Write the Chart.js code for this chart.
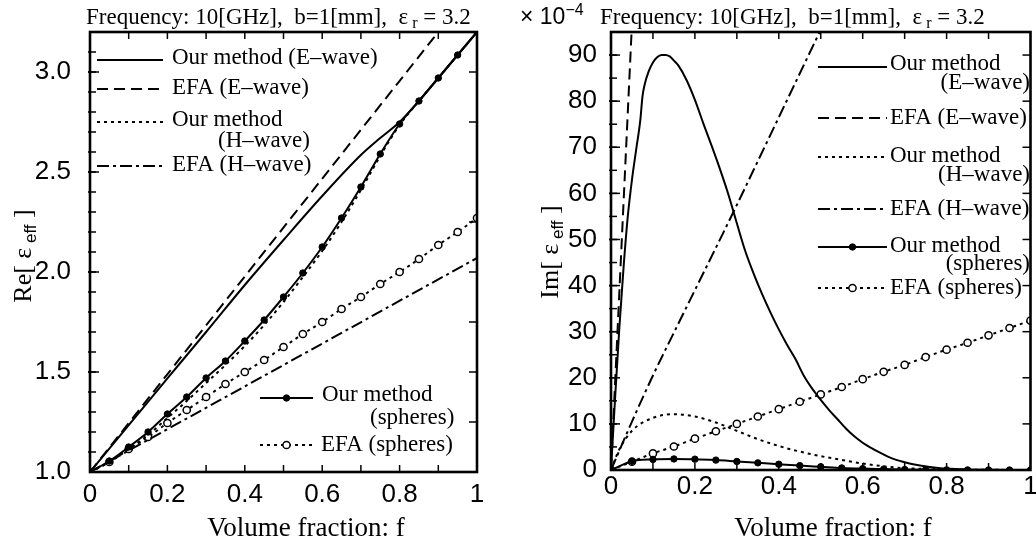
<!DOCTYPE html>
<html>
<head>
<meta charset="utf-8">
<script src="https://cdn.jsdelivr.net/npm/chart.js@4.4.1/dist/chart.umd.min.js"></script>
<style>
  html, body { margin: 0; padding: 0; background: #fff; }
  #wrap { position: relative; width: 1036px; height: 541px; }
  canvas { position: absolute; top: 0; }
  #re { left: 0; }
  #im { left: 518px; }
</style>
</head>
<body>
<div id="wrap">
  <canvas id="re" width="518" height="541"></canvas>
  <canvas id="im" width="518" height="541"></canvas>
</div>
<script>
// volume fraction grid used by the marker series (0.05 steps)
const fSteps = [0, 0.05, 0.1, 0.15, 0.2, 0.25, 0.3, 0.35, 0.4, 0.45, 0.5,
                0.55, 0.6, 0.65, 0.7, 0.75, 0.8, 0.85, 0.9, 0.95, 1];

// ---- left panel: Re[eps_eff] ----
const reOurEF = [0, 0.1, 0.2, 0.3, 0.4, 0.5, 0.6, 0.7, 0.75, 0.8, 0.85, 0.9, 0.95, 1];
const reOurE  = [1.0, 1.234, 1.468, 1.70, 1.935, 2.16, 2.38, 2.585, 2.67, 2.75, 2.855, 2.97, 3.085, 3.2];
const reEfaEF = [0, 0.9];
const reEfaE  = [1.0, 3.2];
const reOurH  = [1.0, 1.05, 1.115, 1.185, 1.27, 1.355, 1.445, 1.535, 1.63, 1.735, 1.85,
                 1.975, 2.105, 2.25, 2.41, 2.58, 2.735, 2.855, 2.97, 3.085, 3.2];
const reEfaHF = [0, 0.5, 1];
const reEfaH  = [1.0, 1.535, 2.07];
const reOurSph = [1.0, 1.055, 1.125, 1.2, 1.29, 1.375, 1.47, 1.555, 1.655, 1.76, 1.875,
                  1.995, 2.125, 2.27, 2.425, 2.59, 2.74, 2.855, 2.97, 3.085, 3.2];
const reEfaSph = [1.0, 1.05, 1.115, 1.175, 1.245, 1.31, 1.375, 1.44, 1.5, 1.56, 1.625,
                  1.69, 1.75, 1.815, 1.875, 1.94, 2.0, 2.065, 2.135, 2.2, 2.27];

// ---- right panel: Im[eps_eff] (x 10^-4) ----
const imOurEF = [0, 0.01, 0.02, 0.03, 0.04, 0.05, 0.06, 0.07, 0.075, 0.08, 0.09, 0.1, 0.11, 0.12,
                 0.13, 0.14, 0.15, 0.16, 0.18, 0.2, 0.22, 0.24, 0.26, 0.28, 0.3, 0.32, 0.34, 0.36,
                 0.38, 0.4, 0.42, 0.44, 0.46, 0.48, 0.5, 0.52, 0.54, 0.56, 0.58, 0.6, 0.62, 0.64,
                 0.66, 0.68, 0.7, 0.72, 0.74, 0.76, 0.78, 0.8, 0.85, 0.9, 0.95, 1];
const imOurE  = [0, 16, 31, 44, 55, 63, 69.5, 76, 81, 83.5, 86.5, 88.4, 89.5, 90,
                 90, 89.7, 88.8, 87.8, 84.6, 80.3, 75.2, 70.3, 65.2, 59.7, 53.5, 47.5, 42.6, 38.2,
                 34.2, 30.5, 27.1, 24.0, 20.4, 17.6, 15.2, 13.0, 11.0, 9.0, 7.3, 5.9, 4.8, 3.8,
                 2.9, 2.2, 1.7, 1.25, 0.9, 0.65, 0.45, 0.3, 0.12, 0.05, 0.02, 0];
const imEfaEF = [0, 0.049];
const imEfaE  = [0, 95];
const imOurHF = [0, 0.02, 0.05, 0.1, 0.15, 0.2, 0.25, 0.3, 0.35, 0.4, 0.45, 0.5, 0.55, 0.6,
                 0.65, 0.7, 0.8, 0.9, 1];
const imOurH  = [0, 4.5, 8.5, 11.3, 12.1, 11.6, 10.3, 8.5, 6.7, 5.2, 4.0, 3.0, 2.2, 1.4,
                 0.8, 0.4, 0.15, 0.05, 0];
const imEfaHF = [0, 0.05, 0.1, 0.15, 0.2, 0.25, 0.3, 0.35, 0.4, 0.45, 0.5];
const imEfaH  = [0, 10.5, 20.5, 29.8, 39, 48.2, 57.5, 67, 76.5, 86, 95.5];
const imOurSph = [0, 1.9, 2.3, 2.4, 2.35, 2.15, 1.85, 1.55, 1.25, 0.95, 0.7,
                  0.45, 0.3, 0.2, 0.1, 0.06, 0.03, 0.02, 0.01, 0, 0];
const imEfaSph = [0, 1.8, 3.6, 5.1, 6.8, 8.4, 10, 11.6, 13.2, 14.8, 16.4,
                  18, 19.7, 21.3, 22.8, 24.5, 26.1, 27.6, 29.2, 30.8, 32.4];

// ---------------------------------------------------------------------------
const SERIF = '"Liberation Serif", "Times New Roman", serif';
const SANS = '"Liberation Sans", Arial, sans-serif';

const SOLID = { borderDash: [] };
const DASH = { borderDash: [11, 6] };
const DOT = { borderDash: [3, 4] };
const DASHDOT = { borderDash: [12, 4, 3, 4] };
const FILLED_DOT = { borderDash: [], pointRadius: 3.2, pointBackgroundColor: '#000', pointBorderWidth: 1 };
const OPEN_DOT = { borderDash: [3, 4], pointRadius: 3.6, pointBackgroundColor: '#fff', pointBorderWidth: 1.5 };

function series(label, xs, ys, style) {
  return Object.assign({
    label,
    data: xs.map((x, i) => ({ x, y: ys[i] })),
    borderColor: '#000',
    backgroundColor: '#000',
    pointBorderColor: '#000',
    borderWidth: 2,
    pointRadius: 0,
    cubicInterpolationMode: 'monotone',
    fill: false
  }, style);
}

function drawRuns(ctx, runs, x, y, align) {
  let total = 0;
  runs.forEach((r) => { ctx.font = r.font; total += ctx.measureText(r.t).width; });
  let cx = align === 'center' ? x - total / 2 : (align === 'right' ? x - total : x);
  ctx.textAlign = 'left';
  runs.forEach((r) => {
    ctx.font = r.font;
    ctx.fillText(r.t, cx, y + (r.dy || 0));
    cx += ctx.measureText(r.t).width;
  });
}

// frame + inward tick marks, plus free text (titles, legend)
function paperPlugin(spec) {
  return {
    id: 'paper',
    afterDatasetsDraw(chart) {
      const { ctx, chartArea: a, scales: { x, y } } = chart;
      ctx.save();
      ctx.strokeStyle = '#000';
      ctx.lineWidth = 1.5;
      const marks = (scale, list, fn) => list.forEach(({ step, len }) => {
        const n = Math.round((scale.max - scale.min) / step) + 1;
        for (let i = 1; i <= n; i++) {
          const v = scale.min + i * step;
          if (v >= scale.max - 1e-9) break;
          fn(scale.getPixelForValue(v), len);
        }
      });
      const seg = (x0, y0, x1, y1) => { ctx.beginPath(); ctx.moveTo(x0, y0); ctx.lineTo(x1, y1); ctx.stroke(); };
      marks(x, spec.ticks.bottom, (p, l) => seg(p, a.bottom, p, a.bottom - l));
      marks(x, spec.ticks.top, (p, l) => seg(p, a.top, p, a.top + l));
      marks(y, spec.ticks.left, (p, l) => seg(a.left - 2, p, a.left + l, p));
      marks(y, spec.ticks.right, (p, l) => seg(a.right, p, a.right - l, p));
      ctx.lineWidth = 2.6;
      ctx.strokeRect(a.left, a.top, a.width, a.height);

      // legend
      ctx.fillStyle = '#000';
      ctx.textBaseline = 'middle';
      spec.legend.forEach((it) => {
        const ds = chart.data.datasets[it.ds];
        ctx.lineWidth = ds.borderWidth;
        ctx.setLineDash(ds.borderDash || []);
        seg(it.x0, it.ly, it.x1, it.ly);
        ctx.setLineDash([]);
        if (ds.pointRadius > 0) {
          ctx.beginPath();
          ctx.arc((it.x0 + it.x1) / 2, it.ly, ds.pointRadius, 0, Math.PI * 2);
          ctx.fillStyle = ds.pointBackgroundColor;
          ctx.fill();
          ctx.lineWidth = ds.pointBorderWidth;
          ctx.stroke();
          ctx.fillStyle = '#000';
        }
        it.lines.forEach((l) => drawRuns(ctx, [{ t: l.t, font: '23px ' + SERIF }], l.x, l.y, l.align || 'left'));
      });

      // titles
      ctx.textBaseline = 'alphabetic';
      spec.texts.forEach((t) => {
        ctx.save();
        if (t.rotate) {
          ctx.translate(t.x, t.y);
          ctx.rotate(-Math.PI / 2);
          drawRuns(ctx, t.runs, 0, 0, 'center');
        } else {
          drawRuns(ctx, t.runs, t.x, t.y, t.align);
        }
        ctx.restore();
      });
      ctx.restore();
    }
  };
}

const titleRuns = [
  { t: 'Frequency: 10[GHz],  b=1[mm],  \u03b5', font: '23px ' + SERIF },
  { t: ' r', font: '16px ' + SERIF, dy: 4 },
  { t: ' = 3.2', font: '23px ' + SERIF }
];

function makeChart(id, datasets, o) {
  const tickFont = { family: SANS, size: 26 };
  return new Chart(document.getElementById(id), {
    type: 'line',
    data: { datasets },
    options: {
      responsive: false,
      animation: false,
      devicePixelRatio: 1,
      events: [],
      layout: { padding: o.padding },
      plugins: { legend: { display: false }, tooltip: { enabled: false } },
      scales: {
        x: {
          type: 'linear', min: 0, max: 1,
          grid: { display: false }, border: { display: false },
          ticks: {
            stepSize: 0.2, autoSkip: false, maxRotation: 0, padding: o.xPad,
            color: '#000', font: tickFont, includeBounds: false,
            callback: (v) => String(+v.toFixed(1))
          },
          afterFit: (s) => { s.height = o.xHeight; s.paddingLeft = 0; s.paddingRight = 0; }
        },
        y: {
          type: 'linear', min: o.yMin, max: o.yMax,
          grid: { display: false }, border: { display: false },
          ticks: {
            stepSize: o.yStep, autoSkip: false, padding: o.yPad, includeBounds: false,
            color: '#000', font: tickFont, callback: o.yLabel
          },
          afterFit: (s) => { s.width = o.yWidth; s.paddingTop = 0; s.paddingBottom = 0; }
        }
      }
    },
    plugins: [paperPlugin(o.paper)]
  });
}

// ---- left: real part ----
makeChart('re', [
  series('Our method (E-wave)', reOurEF, reOurE, SOLID),
  series('EFA (E-wave)', reEfaEF, reEfaE, DASH),
  series('Our method (H-wave)', fSteps, reOurH, DOT),
  series('EFA (H-wave)', reEfaHF, reEfaH, DASHDOT),
  series('Our method (spheres)', fSteps, reOurSph, FILLED_DOT),
  series('EFA (spheres)', fSteps, reEfaSph, OPEN_DOT)
], {
  padding: { left: 0, right: 41, top: 32, bottom: 0 },
  xHeight: 69, xPad: -1, yWidth: 90, yPad: 11,
  yMin: 1, yMax: 3.2, yStep: 0.5,
  yLabel: (v) => (Math.abs(v * 2 - Math.round(v * 2)) < 1e-6 ? v.toFixed(1) : ''),
  paper: {
    ticks: {
      bottom: [{ step: 0.1, len: 7 }], top: [{ step: 0.1, len: 7 }],
      left: [{ step: 0.1, len: 6 }, { step: 0.5, len: 9 }], right: [{ step: 0.25, len: 8 }]
    },
    legend: [
      { ds: 0, x0: 97, x1: 163, ly: 60, lines: [{ t: 'Our method (E\u2013wave)', x: 172, y: 58 }] },
      { ds: 1, x0: 97, x1: 163, ly: 89, lines: [{ t: 'EFA (E\u2013wave)', x: 172, y: 88 }] },
      { ds: 2, x0: 97, x1: 163, ly: 122, lines: [{ t: 'Our method', x: 172, y: 120 }, { t: '(H\u2013wave)', x: 218, y: 141 }] },
      { ds: 3, x0: 97, x1: 163, ly: 166, lines: [{ t: 'EFA (H\u2013wave)', x: 172, y: 165 }] },
      { ds: 4, x0: 260, x1: 313, ly: 398, lines: [{ t: 'Our method', x: 322, y: 395 }, { t: '(spheres)', x: 370, y: 418 }] },
      { ds: 5, x0: 260, x1: 313, ly: 445, lines: [{ t: 'EFA (spheres)', x: 321, y: 445 }] }
    ],
    texts: [
      { runs: titleRuns, x: 86, y: 24 },
      { runs: [{ t: 'Volume fraction: f', font: '27px ' + SERIF }], x: 306, y: 536, align: 'center' },
      { rotate: true, x: 31, y: 256, runs: [
        { t: 'Re[ \u03b5', font: '26px ' + SERIF },
        { t: ' eff', font: '17px ' + SANS, dy: 5 },
        { t: ' ]', font: '26px ' + SERIF }
      ] }
    ]
  }
});

// ---- right: imaginary part ----
makeChart('im', [
  series('Our method (E-wave)', imOurEF, imOurE, SOLID),
  series('EFA (E-wave)', imEfaEF, imEfaE, DASH),
  series('Our method (H-wave)', imOurHF, imOurH, DOT),
  series('EFA (H-wave)', imEfaHF, imEfaH, DASHDOT),
  series('Our method (spheres)', fSteps, imOurSph, FILLED_DOT),
  series('EFA (spheres)', fSteps, imEfaSph, OPEN_DOT)
], {
  padding: { left: 0, right: 5, top: 32, bottom: 0 },
  xHeight: 71, xPad: -7, yWidth: 93, yPad: 6,
  yMin: 0, yMax: 95, yStep: 10,
  yLabel: (v) => (v % 10 === 0 ? String(v) : ''),
  paper: {
    ticks: {
      bottom: [{ step: 0.1, len: 7 }], top: [{ step: 0.1, len: 7 }],
      left: [{ step: 5, len: 6 }, { step: 10, len: 9 }], right: [{ step: 10, len: 8 }]
    },
    legend: [
      { ds: 0, x0: 300, x1: 369, ly: 67, lines: [{ t: 'Our method', x: 372, y: 64 }, { t: '(E\u2013wave)', x: 512, y: 83, align: 'right' }] },
      { ds: 1, x0: 300, x1: 369, ly: 118, lines: [{ t: 'EFA (E\u2013wave)', x: 372, y: 118 }] },
      { ds: 2, x0: 300, x1: 369, ly: 157, lines: [{ t: 'Our method', x: 372, y: 156 }, { t: '(H\u2013wave)', x: 512, y: 175, align: 'right' }] },
      { ds: 3, x0: 300, x1: 369, ly: 209, lines: [{ t: 'EFA (H\u2013wave)', x: 372, y: 209 }] },
      { ds: 4, x0: 300, x1: 369, ly: 247, lines: [{ t: 'Our method', x: 372, y: 246 }, { t: '(spheres)', x: 512, y: 264, align: 'right' }] },
      { ds: 5, x0: 300, x1: 369, ly: 288, lines: [{ t: 'EFA (spheres)', x: 372, y: 288 }] }
    ],
    texts: [
      { runs: titleRuns, x: 82, y: 24 },
      { runs: [{ t: '\u00d7 10', font: '23px ' + SANS }, { t: '\u22124', font: '16px ' + SANS, dy: -9 }], x: 2, y: 24 },
      { runs: [{ t: 'Volume fraction: f', font: '27px ' + SERIF }], x: 315, y: 536, align: 'center' },
      { rotate: true, x: 40, y: 252, runs: [
        { t: 'Im[ \u03b5', font: '26px ' + SERIF },
        { t: ' eff', font: '17px ' + SANS, dy: 5 },
        { t: ' ]', font: '26px ' + SERIF }
      ] }
    ]
  }
});
</script>
</body>
</html>
